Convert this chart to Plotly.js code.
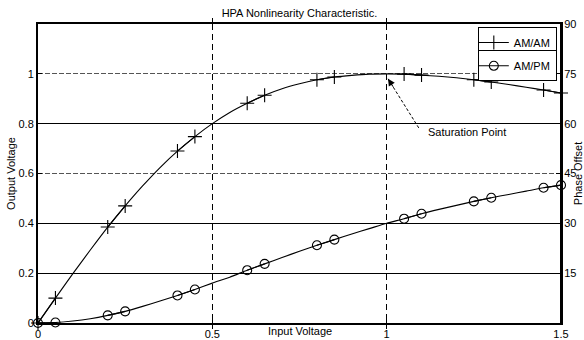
<!DOCTYPE html>
<html>
<head>
<meta charset="utf-8">
<script src="https://cdn.plot.ly/plotly-3.0.1.min.js"></script>
<style>
  html, body { margin: 0; padding: 0; background: #fff; }
  #chart { width: 584px; height: 340px; }
</style>
</head>
<body>
<div id="chart"></div>
<script>
// Input drive level (normalised) at which both responses are sampled
var inputV = [0, 0.05, 0.1, 0.15, 0.2, 0.25, 0.3, 0.35, 0.4, 0.45, 0.5,
              0.55, 0.6, 0.65, 0.7, 0.75, 0.8, 0.85, 0.9, 0.95, 1.0,
              1.05, 1.1, 1.15, 1.2, 1.25, 1.3, 1.35, 1.4, 1.45, 1.5];

// AM/AM: output voltage
var amam = [0, 0.10, 0.198, 0.293, 0.385, 0.47, 0.55, 0.624, 0.69, 0.748, 0.80,
            0.845, 0.882, 0.914, 0.94, 0.96, 0.976, 0.987, 0.994, 0.999, 1.0,
            0.999, 0.995, 0.99, 0.984, 0.976, 0.967, 0.957, 0.946, 0.935, 0.923];

// AM/PM: phase offset in degrees
var ampm = [0, 0.15, 0.6, 1.3, 2.3, 3.5, 5.0, 6.6, 8.3, 10.1, 12.0,
            13.8, 15.9, 17.8, 19.7, 21.6, 23.4, 25.1, 26.8, 28.4, 30.0,
            31.4, 32.9, 34.2, 35.4, 36.6, 37.7, 38.7, 39.7, 40.7, 41.5];

// Sample indices that carry a marker (they come in adjacent pairs)
var markerPairs = [[0, 1], [4, 5], [8, 9], [12, 13], [16, 17], [21, 22], [25, 26], [29, 30]];

var xTicks = [0, 0.5, 1, 1.5];
var leftTicks = [0, 0.2, 0.4, 0.6, 0.8, 1];
var rightTicks = [15, 30, 45, 60, 75, 90];
var solidGridDeg = [15, 30, 60];
var saturationIdx = 20;

// Build marker series, with a break between each pair so only short segments join them
function pairedSeries(values) {
  var xs = [], ys = [];
  markerPairs.forEach(function (p, k) {
    if (k > 0) { xs.push(null); ys.push(null); }
    p.forEach(function (i) { xs.push(inputV[i]); ys.push(values[i]); });
  });
  return { x: xs, y: ys };
}

var amMarks = pairedSeries(amam);
var pmMarks = pairedSeries(ampm);

var FONT = 'Liberation Sans, Arial, Helvetica, sans-serif';
var lineStyle = { color: '#000', width: 1.1, shape: 'spline', smoothing: 0.6 };

var traces = [
  { x: inputV, y: amam, mode: 'lines', line: lineStyle, showlegend: false,
    hoverinfo: 'skip', cliponaxis: false },
  // the phase curve lives on the unlabelled degree axis (same 0-90 scale as the right axis)
  { x: inputV, y: ampm, yaxis: 'y3', mode: 'lines', line: lineStyle, showlegend: false,
    hoverinfo: 'skip', cliponaxis: false },
  { x: amMarks.x, y: amMarks.y, name: 'AM/AM', mode: 'lines+markers', legend: 'legend',
    connectgaps: false, cliponaxis: false,
    line: { color: '#000', width: 1.1 },
    marker: { symbol: 'cross-thin-open', size: 10, color: '#000', line: { color: '#000', width: 1.1 } } },
  { x: pmMarks.x, y: pmMarks.y, yaxis: 'y2', name: 'AM/PM', mode: 'lines+markers', legend: 'legend2',
    connectgaps: false, cliponaxis: false,
    line: { color: '#000', width: 1.1 },
    marker: { symbol: 'circle-open', size: 9, color: '#000', line: { color: '#000', width: 1.1 } } }
];

var axisCommon = {
  showline: true, linecolor: '#000', linewidth: 2,
  ticks: 'inside', ticklen: 4, tickcolor: '#000', tickwidth: 1,
  zeroline: false, tickfont: { family: FONT, size: 11, color: '#000' },
  ticklabeloverflow: 'allow', fixedrange: true
};

var legendCommon = {
  x: 0.992, xanchor: 'right', yanchor: 'top',
  bgcolor: '#fff', bordercolor: '#000', borderwidth: 1,
  font: { family: FONT, size: 11, color: '#000' }, itemwidth: 30, indentation: -5,
  tracegroupgap: 0
};

var layout = {
  width: 584, height: 340,
  margin: { l: 38, r: 23, t: 24, b: 17 },
  paper_bgcolor: '#fff', plot_bgcolor: '#fff',
  font: { family: FONT, size: 11, color: '#000' },
  title: { text: 'HPA Nonlinearity Characteristic.', font: { family: FONT, size: 11, color: '#000' },
           xref: 'paper', x: 0.5, xanchor: 'center', yref: 'container', y: 1 - 13 / 340, yanchor: 'middle' },
  xaxis: Object.assign({}, axisCommon, {
    range: [0, 1.5], tickvals: xTicks, ticktext: xTicks.map(String), mirror: 'allticks',
    showgrid: true, gridcolor: '#000', gridwidth: 1, griddash: '6px,4px'
  }),
  yaxis: Object.assign({}, axisCommon, {
    range: [0, 1.2], tickvals: leftTicks, ticktext: leftTicks.map(String), mirror: true,
    showgrid: true, gridcolor: '#555', gridwidth: 1, griddash: '5px,2px',
    automargin: false,
    title: { text: 'Output Voltage', font: { family: FONT, size: 11, color: '#000' }, standoff: 1 }
  }),
  yaxis2: Object.assign({}, axisCommon, {
    range: [0, 90], overlaying: 'y', side: 'right', anchor: 'free', position: 1,
    tickvals: rightTicks, ticktext: rightTicks.map(String), tickmode: 'array',
    showgrid: false, automargin: false,
    title: { text: 'Phase Offset', font: { family: FONT, size: 11, color: '#000' }, standoff: 4 }
  }),
  // unlabelled degree axis that carries the solid grid rules
  yaxis3: {
    range: [0, 90], overlaying: 'y', side: 'right', anchor: 'x',
    tickvals: solidGridDeg, showticklabels: false, ticks: '',
    showgrid: true, gridcolor: '#000', gridwidth: 1, zeroline: false, showline: false,
    fixedrange: true
  },
  legend: Object.assign({}, legendCommon, { y: 0.99 }),
  legend2: Object.assign({}, legendCommon, { y: 0.912 }),
  shapes: [
    { type: 'line', xref: 'x', yref: 'y', x0: 1.092, y0: 0.783,
      x1: inputV[saturationIdx] + 0.004, y1: amam[saturationIdx] - 0.02,
      line: { color: '#000', width: 1, dash: '3px,2px' } }
  ],
  annotations: [
    { xref: 'x', yref: 'y', x: inputV[saturationIdx] + 0.004, y: amam[saturationIdx] - 0.02,
      text: '', showarrow: true, arrowhead: 2, arrowsize: 1.4, arrowwidth: 1, arrowcolor: '#000',
      ax: 6, ay: 9.5 },
    { xref: 'x', yref: 'y', x: 1.229, y: 0.767, text: 'Saturation Point', showarrow: false,
      font: { family: FONT, size: 11, color: '#000' }, xanchor: 'center', yanchor: 'middle' },
    { xref: 'paper', yref: 'paper', x: 0.5, y: -8 / 299, text: 'Input Voltage', showarrow: false,
      font: { family: FONT, size: 11, color: '#000' }, xanchor: 'center', yanchor: 'middle' }
  ],
  showlegend: true
};

Plotly.newPlot('chart', traces, layout, { displayModeBar: false, staticPlot: true });
</script>
</body>
</html>
